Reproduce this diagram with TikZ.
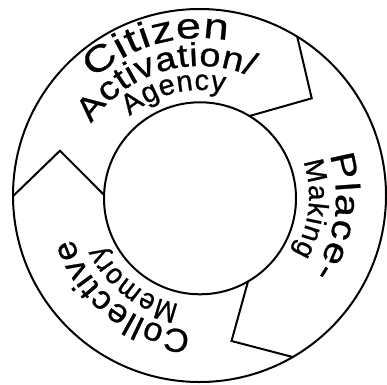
\documentclass[tikz,border=0pt]{standalone}
\usepackage{fontspec}
\setmainfont{Liberation Sans}
\usetikzlibrary{decorations.text}
\newfontfamily\ftCit[FakeStretch=1.25,FakeBold=0.8]{Liberation Sans}
\newfontfamily\ftAct[FakeStretch=1.15,FakeBold=0.8]{Liberation Sans}
\newfontfamily\ftAge[FakeStretch=1.0,FakeBold=0.8]{Liberation Sans}
\newfontfamily\ftPla[FakeStretch=1.2,FakeBold=0.8]{Liberation Sans}
\newfontfamily\ftMak[FakeStretch=1.0,FakeBold=0.8]{Liberation Sans}
\newfontfamily\ftCol[FakeStretch=1.05,FakeBold=0.8]{Liberation Sans}
\newfontfamily\ftMem[FakeStretch=0.92,FakeBold=0.8]{Liberation Sans}
\begin{document}
\begin{tikzpicture}[x=1pt,y=1pt,
  ring/.style={line width=2pt, line join=miter, draw=black}]
\useasboundingbox (0,0) rectangle (387,384);
% centres
\coordinate (O) at (199.5,188.5);
\coordinate (I) at (200,185.7);
\coordinate (T) at (200,187);
% chevron points
\coordinate (o1) at ([shift={(58.4:186.5)}]O);
\coordinate (t1) at (311.7,285.7);
\coordinate (i1) at ([shift={(59:96)}]I);
\coordinate (o2) at ([shift={(180.2:186.5)}]O);
\coordinate (t2) at (60,233.3);
\coordinate (i2) at ([shift={(178:96)}]I);
\coordinate (o3) at ([shift={(300:186.5)}]O);
\coordinate (t3) at (231.5,43);
\coordinate (i3) at ([shift={(300:96)}]I);
% rings
\draw[ring] (O) circle[radius=186.5];
\draw[ring] (I) circle[radius=96];
% chevrons
\draw[ring] (o1) -- (t1) -- (i1);
\draw[ring] (o2) -- (t2) -- (i2);
\draw[ring] (i3) -- (t3) -- (o3);
% texts
\path[decorate, decoration={text along path, text align={fit to path},
  text={|\ftCit\fontsize{36pt}{36pt}\selectfont|Citizen}}]
  ([shift={(132:159)}]T) arc[start angle=132, end angle=80, radius=159];
\path[decorate, decoration={text along path, text align={fit to path},
  text={|\ftAct\fontsize{33pt}{33pt}\selectfont|Activation/}}]
  ([shift={(146:131)}]T) arc[start angle=146, end angle=67, radius=131];
\path[decorate, decoration={text along path, text align={fit to path},
  text={|\ftAge\fontsize{29pt}{29pt}\selectfont|Agency}}]
  ([shift={(131:107)}]T) arc[start angle=131, end angle=77, radius=107];
\path[decorate, decoration={text along path, text align={fit to path},
  text={|\ftPla\fontsize{34pt}{34pt}\selectfont|Place-}}]
  ([shift={(18:136)}]T) arc[start angle=18, end angle=-34, radius=136];
\path[decorate, decoration={text along path, text align={fit to path},
  text={|\ftMak\fontsize{28pt}{28pt}\selectfont|Making}}]
  ([shift={(19:109)}]T) arc[start angle=19, end angle=-31, radius=109];
\path[decorate, decoration={text along path, text align={fit to path},
  text={|\ftCol\fontsize{33pt}{33pt}\selectfont|Collective}}]
  ([shift={(266:134)}]T) arc[start angle=266, end angle=198, radius=134];
\path[decorate, decoration={text along path, text align={fit to path},
  text={|\ftMem\fontsize{29pt}{29pt}\selectfont|Memory}}]
  ([shift={(259:109)}]T) arc[start angle=259, end angle=206, radius=109];
\end{tikzpicture}
\end{document}
